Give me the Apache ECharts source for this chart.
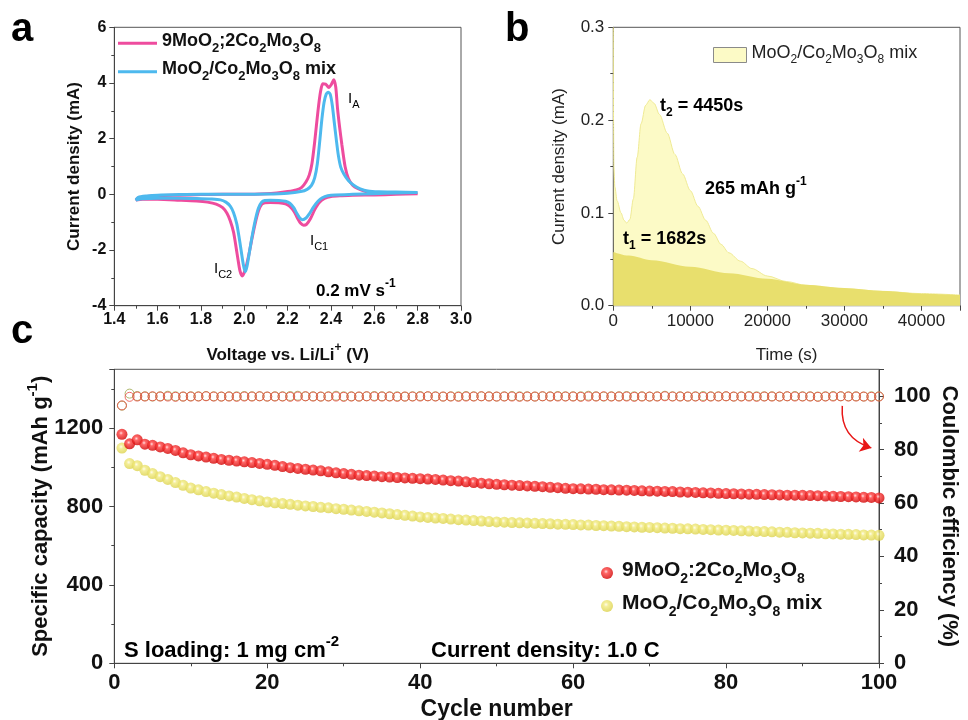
<!DOCTYPE html>
<html><head><meta charset="utf-8">
<script src="https://cdn.jsdelivr.net/npm/echarts@6/dist/echarts.min.js"></script>
<style>html,body{margin:0;padding:0;background:#fff}#c{width:968px;height:720px}</style>
</head><body><div id="c"></div>
<script>
// ---------- Panel a: cyclic voltammetry [voltage V, current mA] ----------
const cvPink = [
[2.80,0.02],[2.70,0.00],[2.60,-0.02],[2.50,-0.03],[2.45,-0.05],[2.40,-0.08],[2.37,-0.15],[2.345,-0.3],[2.325,-0.55],[2.305,-0.88],[2.287,-1.08],[2.274,-1.11],[2.26,-1.04],[2.245,-0.85],[2.23,-0.62],[2.21,-0.43],[2.19,-0.34],[2.16,-0.3],[2.12,-0.29],[2.095,-0.3],[2.08,-0.36],[2.065,-0.6],[2.05,-1.05],[2.035,-1.6],[2.02,-2.2],[2.005,-2.7],[1.99,-2.93],[1.98,-2.75],[1.97,-2.3],[1.96,-1.8],[1.95,-1.35],[1.935,-0.95],[1.92,-0.68],[1.90,-0.48],[1.87,-0.35],[1.83,-0.28],[1.78,-0.24],[1.70,-0.21],[1.60,-0.18],[1.53,-0.18],[1.50,-0.2],
[1.51,-0.13],[1.55,-0.08],[1.60,-0.05],[1.70,-0.03],[1.80,-0.01],[1.90,0.0],[2.00,0.0],[2.10,0.02],[2.15,0.05],[2.20,0.1],[2.24,0.16],[2.265,0.25],[2.285,0.45],[2.30,0.7],[2.312,1.1],[2.325,1.9],[2.34,3.0],[2.352,3.7],[2.362,3.97],[2.375,3.96],[2.39,3.84],[2.402,3.95],[2.413,4.12],[2.422,3.85],[2.43,3.1],[2.44,2.4],[2.45,1.8],[2.465,1.0],[2.48,0.58],[2.50,0.33],[2.525,0.2],[2.56,0.1],[2.62,0.05],[2.70,0.03],[2.80,0.02]
];
const cvBlue = [
[2.80,0.07],[2.70,0.05],[2.60,0.02],[2.50,0.0],[2.42,-0.02],[2.385,-0.05],[2.36,-0.12],[2.34,-0.25],[2.32,-0.45],[2.30,-0.7],[2.285,-0.85],[2.268,-0.91],[2.255,-0.84],[2.242,-0.68],[2.228,-0.48],[2.21,-0.32],[2.19,-0.25],[2.16,-0.22],[2.12,-0.21],[2.095,-0.22],[2.08,-0.28],[2.065,-0.5],[2.05,-0.95],[2.035,-1.55],[2.022,-2.15],[2.012,-2.6],[2.004,-2.78],[1.995,-2.5],[1.985,-2.0],[1.975,-1.5],[1.965,-1.05],[1.95,-0.65],[1.935,-0.42],[1.915,-0.28],[1.89,-0.2],[1.85,-0.17],[1.78,-0.15],[1.70,-0.14],[1.60,-0.14],[1.53,-0.16],[1.50,-0.2],
[1.51,-0.11],[1.55,-0.06],[1.60,-0.03],[1.70,-0.01],[1.80,0.0],[1.90,0.0],[2.00,0.0],[2.10,0.01],[2.20,0.04],[2.26,0.1],[2.29,0.18],[2.31,0.32],[2.325,0.6],[2.337,1.1],[2.348,1.9],[2.358,2.7],[2.368,3.3],[2.378,3.6],[2.388,3.67],[2.397,3.58],[2.406,3.2],[2.415,2.6],[2.424,2.0],[2.434,1.4],[2.445,0.98],[2.46,0.72],[2.48,0.5],[2.505,0.33],[2.535,0.2],[2.57,0.12],[2.62,0.09],[2.70,0.08],[2.80,0.07]
];
// ---------- Panel b: current vs time [s, mA] ----------
const bTotal = [
[0,0.3],[30,0.2],[80,0.15],[200,0.128],[500,0.113],[1000,0.1],[1400,0.092],[1750,0.089],[2150,0.093],[2600,0.115],[3100,0.16],[3600,0.196],[4200,0.216],[4750,0.222],[5300,0.218],[6000,0.206],[7000,0.186],[8000,0.163],[9000,0.142],[10000,0.124],[11000,0.107],[12000,0.092],[13000,0.078],[14000,0.066],[15000,0.057],[16500,0.048],[18000,0.04],[20000,0.032],[22500,0.026],[25000,0.022],[27500,0.02],[30000,0.018],[35000,0.0155],[40000,0.013],[45000,0.0115]
];
const bBase = [
[0,0.058],[2000,0.054],[5000,0.049],[10000,0.042],[15000,0.035],[20000,0.029],[25000,0.0225],[30000,0.019],[35000,0.0158],[40000,0.013],[45000,0.0115]
];
// ---------- Panel c: cycling ----------
const cycles = Array.from({length:100},(_,i)=>i+1);
const capRed = [
1168,1120,1140,1118,1112,1104,1096,1086,1074,1064,
1058,1052,1046,1040,1036,1032,1028,1024,1020,1015,
1010,1004,998,994,990,986,982,977,972,968,
964,960,958,955,952,950,948,946,944,942,
940,938,935,932,930,926,922,919,916,913,
911,909,907,905,903,901,898,896,893,891,
890,889,888,886,885,884,883,882,880,879,
878,877,876,874,873,872,870,869,867,866,
865,864,863,862,861,860,859,858,858,857,
856,855,853,852,851,850,849,847,846,844
];
const capYellow = [
1098,1019,1008,985,968,952,938,922,908,894,
885,876,868,861,854,848,841,835,829,823,
819,815,811,807,803,800,796,793,789,786,
782,778,775,771,767,763,759,755,751,747,
744,741,739,736,733,731,728,726,723,721,
720,718,717,716,714,713,712,710,709,708,
706,705,703,702,700,699,697,696,694,693,
692,690,689,687,686,685,683,682,680,679,
678,676,675,673,672,671,669,668,666,665,
664,663,661,660,659,658,657,655,654,653
];
const ceRed = [
96.5,99.7,99.8,99.8,99.9,99.8,99.8,99.7,99.8,99.8,
99.8,99.9,99.8,99.8,99.8,99.7,99.8,99.8,99.9,99.8,
99.8,99.8,99.7,99.8,99.9,99.8,99.8,99.8,99.8,99.7,
99.8,99.8,99.9,99.8,99.8,99.8,99.7,99.8,99.8,99.8,
99.9,99.8,99.8,99.8,99.7,99.8,99.8,99.9,99.8,99.8,
99.8,99.8,99.7,99.8,99.8,99.9,99.8,99.8,99.8,99.8,
99.7,99.8,99.8,99.9,99.8,99.8,99.8,99.7,99.8,99.8,
99.8,99.9,99.8,99.8,99.8,99.8,99.7,99.8,99.8,99.9,
99.8,99.8,99.8,99.7,99.8,99.8,99.8,99.9,99.8,99.8,
99.8,99.7,99.8,99.8,99.9,99.8,99.8,99.8,99.7,99.8
];
const ceYellow = [
96.4,100.9,100.0,99.9,99.8,99.9,100.1,99.9,99.8,99.9,
99.9,100.0,99.9,99.8,99.9,99.9,100.0,99.9,99.9,99.8,
99.9,99.9,100.0,100.1,99.9,99.9,99.8,99.9,100.1,99.9,
99.9,99.8,99.9,100.0,99.9,99.9,99.9,99.8,99.9,100.0,
99.9,99.9,99.8,99.9,99.9,100.0,99.9,99.9,99.9,99.8,
99.9,100.0,99.9,99.9,99.8,99.9,99.9,100.0,99.9,99.9,
99.9,100.1,99.9,99.8,99.9,99.9,100.0,99.9,99.9,99.8,
99.9,100.1,99.9,99.9,99.8,99.9,100.0,99.9,99.9,99.9,
99.8,99.9,100.0,99.9,99.9,99.9,99.8,99.9,100.0,99.9,
99.9,99.8,99.9,100.0,99.9,99.9,99.9,99.8,99.9,99.9
];
// arrow annotation (cycle, CE %) start -> end
const arrowPts = [[95.2,96.3],[99.0,80.6]];

// ---------- helpers ----------
const FF = '"Liberation Sans", Arial, Helvetica, sans-serif';
function rich(str){
  let out='', last=0, m; const re=/([_^])\{([^}]*)\}/g;
  while((m=re.exec(str))){
    if(m.index>last) out+='{n|'+str.slice(last,m.index)+'}';
    out+='{'+(m[1]==='_'?'s':'p')+'|'+m[2]+'}';
    last=re.lastIndex;
  }
  if(last<str.length) out+='{n|'+str.slice(last)+'}';
  return out;
}
// superscript styles: size main font, ss sup font, off raise
function rs(size, weight, color, ss, off){
  ss = ss || Math.round(size*0.7);
  off = (off===undefined) ? Math.round(size*0.3) : off;
  const L = ss + 2*off;
  return {
    n:{fontSize:size,fontWeight:weight,color:color,fontFamily:FF,lineHeight:Math.max(L,size),verticalAlign:'bottom'},
    s:{fontSize:ss,fontWeight:weight,color:color,fontFamily:FF,lineHeight:ss,verticalAlign:'bottom'},
    p:{fontSize:ss,fontWeight:weight,color:color,fontFamily:FF,lineHeight:ss,verticalAlign:'top'}
  };
}
// subscript styles: sub pushed down by top padding P
function rsSub(size, weight, color, ss, P){
  return {
    n:{fontSize:size,fontWeight:weight,color:color,fontFamily:FF,verticalAlign:'top'},
    s:{fontSize:ss,fontWeight:weight,color:color,fontFamily:FF,verticalAlign:'top',padding:[P,0,0,0]},
    p:{fontSize:ss,fontWeight:weight,color:color,fontFamily:FF,verticalAlign:'top'}
  };
}
function mkAxis(o){
  const lab={show:true,margin:o.margin,fontSize:o.ls,fontWeight:o.lw,color:o.lc||'#111',fontFamily:FF,
    formatter:o.fmt||(v=>String(v))};
  if(o.hideMax) lab.showMaxLabel=false;
  return {
    gridIndex:o.grid, type:'value', min:o.min, max:o.max, interval:o.interval, position:o.position,
    axisLine:{show:true,onZero:false,lineStyle:{color:'#444',width:1}},
    axisTick:{show:true,inside:false,length:5,lineStyle:{color:'#444',width:1}},
    minorTick:{show:true,splitNumber:2,length:3,lineStyle:{color:'#444',width:1}},
    splitLine:{show:false}, minorSplitLine:{show:false},
    axisLabel:lab,
    name:rich(o.name), nameLocation:'middle', nameGap:o.ng, nameRotate:o.nr, nameMoveOverlap:false,
    nameTextStyle:{rich:rs(o.ns,o.nw,o.lc||'#111',o.nss,o.noff), fontSize:o.ns, fontFamily:FF}
  };
}
const legendNames = {
  aPink:'9MoO_{2};2Co_{2}Mo_{3}O_{8}',
  aBlue:'MoO_{2}/Co_{2}Mo_{3}O_{8} mix',
  bMix:'MoO_{2}/Co_{2}Mo_{3}O_{8} mix',
  cRed:'9MoO_{2}:2Co_{2}Mo_{3}O_{8}',
  cYel:'MoO_{2}/Co_{2}Mo_{3}O_{8} mix'
};
const redSphere = {type:'radial',x:0.42,y:0.38,r:0.62,colorStops:[{offset:0,color:'#ffd6d6'},{offset:0.28,color:'#ff4040'},{offset:1,color:'#d00000'}]};
const yelSphere = {type:'radial',x:0.42,y:0.38,r:0.62,colorStops:[{offset:0,color:'#fffbe6'},{offset:0.3,color:'#f1ea7e'},{offset:1,color:'#dcd24c'}]};

const gridBase = {show:true,borderColor:'#555',borderWidth:1,backgroundColor:'transparent',containLabel:false,outerBoundsMode:'none'};

function gtext(x,y,str,size,weight,color,ss,off){
  return {type:'text',x:x,y:y,z:100,silent:true,
    style:{text:rich(str),rich:rs(size,weight,color||'#111',ss,off),x:0,y:0,
      fontSize:size,fontFamily:FF,textAlign:'left',textVerticalAlign:'middle',align:'left',verticalAlign:'middle'}};
}
function gsub(x,y,str,size,weight,color,ss,P){
  return {type:'text',x:x,y:y,z:100,silent:true,
    style:{text:rich(str),rich:rsSub(size,weight,color||'#111',ss,P),x:0,y:0,
      fontSize:size,fontFamily:FF,textAlign:'left',textVerticalAlign:'middle',align:'left',verticalAlign:'middle'}};
}
function letter(x,y,ch){
  return {type:'text',x:x,y:y,z:100,silent:true,
    style:{text:ch,x:0,y:0,font:'bold 40px '+FF,fill:'#000',textAlign:'left',textVerticalAlign:'middle',align:'left',verticalAlign:'middle'}};
}

const option = {
  animation:false,
  backgroundColor:'#fff',
  grid:[
    Object.assign({left:114.3,top:27.3,width:346.7,height:278.4},gridBase),
    Object.assign({left:613.3,top:27.3,width:346.7,height:278.4},gridBase),
    Object.assign({left:114.3,top:369.3,width:764.7,height:294},gridBase)
  ],
  xAxis:[
    mkAxis({grid:0,min:1.4,max:3.0,interval:0.2,margin:6,ls:16,lw:'bold',fmt:v=>v.toFixed(1),
      name:'Voltage vs. Li/Li^{+} (V)',ng:36,ns:17,nw:'bold',nss:12,noff:5,position:'bottom'}),
    mkAxis({grid:1,min:0,max:45000,interval:10000,margin:7,ls:17,lw:'normal',lc:'#222',hideMax:true,
      name:'Time (s)',ng:36,ns:17,nw:'normal',nss:12,noff:5,position:'bottom'}),
    mkAxis({grid:2,min:0,max:100,interval:20,margin:9,ls:22,lw:'bold',
      name:'Cycle number',ng:30,ns:23,nw:'bold',nss:16,noff:6,position:'bottom'})
  ],
  yAxis:[
    mkAxis({grid:0,min:-4,max:6,interval:2,margin:8,ls:16,lw:'bold',
      name:'Current density (mA)',ng:31,ns:17,nw:'bold',nss:12,noff:5,position:'left',nr:90}),
    mkAxis({grid:1,min:0,max:0.3,interval:0.1,margin:9,ls:17,lw:'normal',lc:'#222',fmt:v=>v.toFixed(1),
      name:'Current density (mA)',ng:45,ns:17,nw:'normal',nss:12,noff:5,position:'left',nr:90}),
    mkAxis({grid:2,min:0,max:1500,interval:400,margin:11,ls:22,lw:'bold',hideMax:true,
      name:'Specific capacity (mAh g^{-1})',ng:62,ns:22,nw:'bold',nss:15,noff:6,position:'left',nr:90}),
    mkAxis({grid:2,min:0,max:110,interval:20,margin:15,ls:22,lw:'bold',hideMax:true,
      name:'Coulombic efficiency (%)',ng:59,ns:22,nw:'bold',nss:15,noff:6,position:'right',nr:-90})
  ],
  legend:[
    {data:['aPink','aBlue'],left:113,top:27,orient:'vertical',itemWidth:39,itemHeight:3,itemGap:6,icon:'rect',
      selectedMode:false,formatter:n=>rich(legendNames[n]),textStyle:{rich:rsSub(18,'bold','#111',13,9.5),fontSize:18}},
    {data:['bMix'],left:708,top:39,orient:'vertical',itemWidth:33,itemHeight:15,icon:'rect',
      itemStyle:{color:'#FCFAC6',borderColor:'#8a8a8a',borderWidth:1},
      selectedMode:false,formatter:n=>rich(legendNames[n]),textStyle:{rich:rsSub(18,'normal','#222',12,10),fontSize:18}},
    {data:['cRed','cYel'],left:596,top:555,orient:'vertical',itemWidth:20,itemHeight:12,itemGap:7,icon:'circle',
      selectedMode:false,formatter:n=>rich(legendNames[n]),textStyle:{rich:rsSub(21,'bold','#111',14,12),fontSize:21}}
  ],
  series:[
    {name:'aPink',type:'line',xAxisIndex:0,yAxisIndex:0,data:cvPink,showSymbol:false,symbol:'none',smooth:0.25,
      lineStyle:{color:'#EE4C9E',width:3},itemStyle:{color:'#EE4C9E'},z:2},
    {name:'aBlue',type:'line',xAxisIndex:0,yAxisIndex:0,data:cvBlue,showSymbol:false,symbol:'none',smooth:0.25,
      lineStyle:{color:'#4DB9EE',width:3},itemStyle:{color:'#4DB9EE'},z:3},
    {name:'bMix',type:'line',xAxisIndex:1,yAxisIndex:1,data:bTotal,showSymbol:false,symbol:'none',smooth:0.3,smoothMonotone:'x',
      lineStyle:{color:'#EFEA95',width:1},itemStyle:{color:'#FCFAC6'},areaStyle:{color:'#FCFAC6',opacity:1},z:2},
    {name:'bBase',type:'line',xAxisIndex:1,yAxisIndex:1,data:bBase,showSymbol:false,symbol:'none',smooth:0.3,smoothMonotone:'x',
      lineStyle:{width:0},areaStyle:{color:'#E8DF6D',opacity:1},z:3},
    {name:'ceYel',type:'scatter',xAxisIndex:2,yAxisIndex:3,data:cycles.map((c,i)=>[c,ceYellow[i]]),symbol:'circle',symbolSize:9,
      itemStyle:{color:'rgba(0,0,0,0)',borderColor:'#9aa64a',borderWidth:1},z:2},
    {name:'ceRed',type:'scatter',xAxisIndex:2,yAxisIndex:3,data:cycles.map((c,i)=>[c,ceRed[i]]),symbol:'circle',symbolSize:9,
      itemStyle:{color:'rgba(0,0,0,0)',borderColor:'#E8473F',borderWidth:1},z:3},
    {name:'cYel',type:'scatter',xAxisIndex:2,yAxisIndex:2,data:cycles.map((c,i)=>[c,capYellow[i]]),symbol:'circle',symbolSize:11,
      itemStyle:{color:yelSphere},z:4},
    {name:'cRed',type:'scatter',xAxisIndex:2,yAxisIndex:2,data:cycles.map((c,i)=>[c,capRed[i]]),symbol:'circle',symbolSize:11,
      itemStyle:{color:redSphere},z:5},
    {name:'arrow',type:'lines',coordinateSystem:'cartesian2d',xAxisIndex:2,yAxisIndex:3,
      data:[{coords:arrowPts}],symbol:['none','arrow'],symbolSize:[1,11],
      lineStyle:{color:'#E81818',width:1.5,curveness:-0.4,opacity:1},z:6}
  ],
  graphic:[
    letter(11,30,'a'), letter(505,30,'b'), letter(11,332,'c'),
    gsub(348,101,'I_{A}',15,'normal','#333',11,8),
    gsub(310,243,'I_{C1}',15,'normal','#333',11,8),
    gsub(214,271,'I_{C2}',15,'normal','#333',11,8),
    gtext(316,289,'0.2 mV s^{-1}',17,'bold','#111',12,5),
    gsub(660,108,'t_{2} = 4450s',18,'bold','#111',12,10),
    gtext(705,187,'265 mAh g^{-1}',18,'bold','#111',12,5),
    gsub(623,241,'t_{1} = 1682s',18,'bold','#111',12,10),
    gtext(124,648,'S loading: 1 mg cm^{-2}',22,'bold','#111',15,6),
    gtext(431,648,'Current density: 1.0 C',22,'bold','#111',15,6)
  ]
};
const chart = echarts.init(document.getElementById('c'),null,{renderer:'canvas'});
chart.setOption(option);
</script>
</body></html>
